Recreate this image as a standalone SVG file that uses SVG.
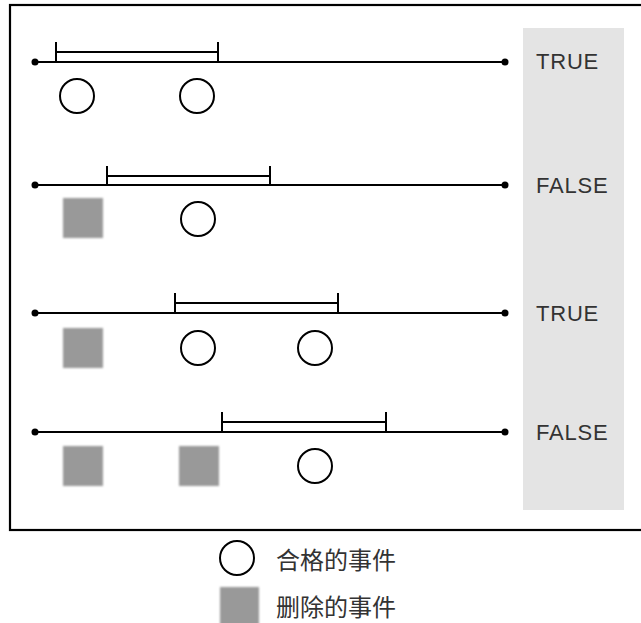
<svg xmlns="http://www.w3.org/2000/svg" width="641" height="623" viewBox="0 0 641 623">
<defs>
<filter id="blur" x="-10%" y="-10%" width="120%" height="120%"><feGaussianBlur stdDeviation="0.8"/></filter>
</defs>
<style>
.line{stroke:#000;stroke-width:2;fill:none}
.dot{fill:#000}
.ev{fill:#fff;stroke:#000;stroke-width:2}
.del{fill:#999;filter:url(#blur)}
.lbl{font-family:"Liberation Sans",Arial,sans-serif;font-size:22px;letter-spacing:0.8px;fill:#333}
.leg{font-family:"Noto Sans CJK SC","Liberation Sans",sans-serif;font-size:24px;fill:#333}
</style>
<rect x="0" y="0" width="641" height="623" fill="#fff"/>
<rect id="frame" x="10" y="5" width="640" height="525" fill="#fff" stroke="#000" stroke-width="2.2"/>
<rect id="result-panel" x="523" y="28" width="101" height="482" fill="#e4e4e4"/>
<g id="connectors">
<line class="line" x1="35" y1="62" x2="505" y2="62"/>
<line class="line" x1="35" y1="185" x2="505" y2="185"/>
<line class="line" x1="35" y1="313" x2="505" y2="313"/>
<line class="line" x1="35" y1="432" x2="505" y2="432"/>
</g>
<g id="row1">
<circle class="dot" cx="35" cy="62" r="3.5"/><circle class="dot" cx="505" cy="62" r="3.5"/>
<path class="line" d="M56 42V62M218 42V62M56 52H218"/>
<circle class="ev" cx="77" cy="96" r="17"/>
<circle class="ev" cx="197" cy="96" r="17"/>
<text class="lbl" x="536" y="69">TRUE</text>
</g>
<g id="row2">
<circle class="dot" cx="35" cy="185" r="3.5"/><circle class="dot" cx="505" cy="185" r="3.5"/>
<path class="line" d="M107 166V185M270 166V185M107 176H270"/>
<rect class="del" x="63" y="198" width="40" height="40"/>
<circle class="ev" cx="198" cy="219" r="17"/>
<text class="lbl" x="536" y="193">FALSE</text>
</g>
<g id="row3">
<circle class="dot" cx="35" cy="313" r="3.5"/><circle class="dot" cx="505" cy="313" r="3.5"/>
<path class="line" d="M175 293V313M338 293V313M175 303H338"/>
<rect class="del" x="63" y="328" width="40" height="40"/>
<circle class="ev" cx="198" cy="348" r="17"/>
<circle class="ev" cx="315" cy="348" r="17"/>
<text class="lbl" x="536" y="321">TRUE</text>
</g>
<g id="row4">
<circle class="dot" cx="35" cy="432" r="3.5"/><circle class="dot" cx="505" cy="432" r="3.5"/>
<path class="line" d="M222 412V432M386 412V432M222 422H386"/>
<rect class="del" x="63" y="446" width="40" height="40"/>
<rect class="del" x="179" y="446" width="40" height="40"/>
<circle class="ev" cx="315" cy="466" r="17"/>
<text class="lbl" x="536" y="440">FALSE</text>
</g>
<g id="legend">
<circle class="ev" cx="237" cy="558" r="17"/>
<text class="leg" x="276" y="569">合格的事件</text>
<rect class="del" x="220" y="587" width="39" height="40"/>
<text class="leg" x="276" y="616">删除的事件</text>
</g>
</svg>
